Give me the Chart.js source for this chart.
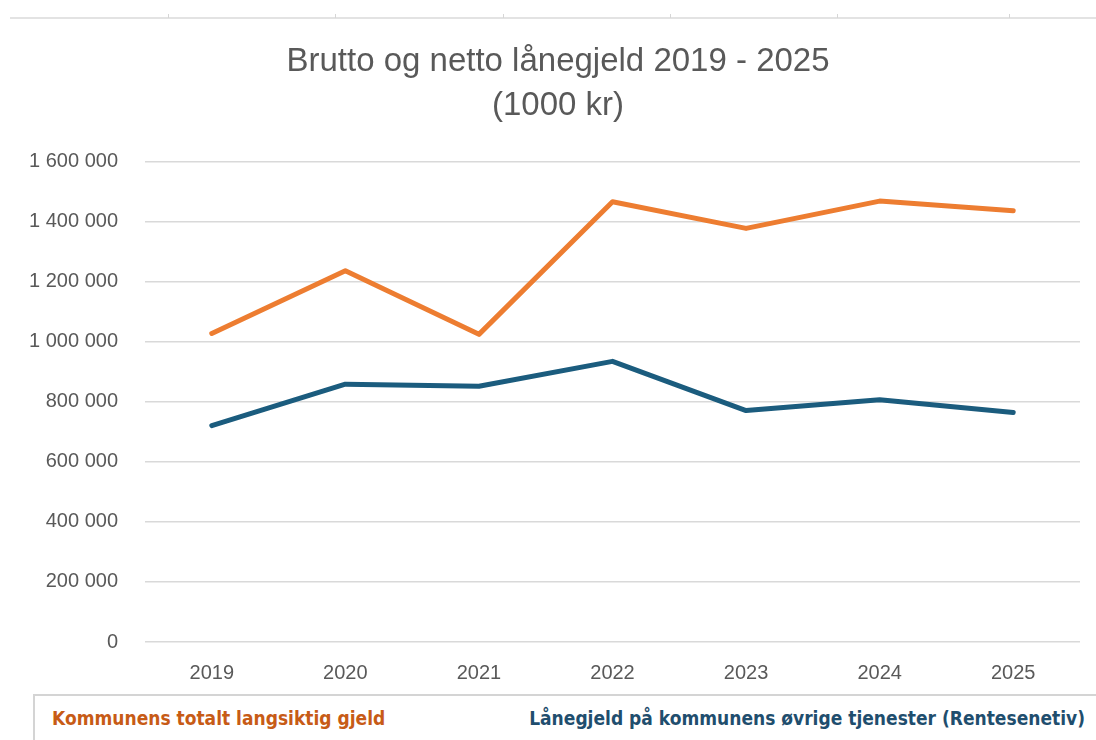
<!DOCTYPE html>
<html>
<head>
<meta charset="utf-8">
<script src="https://cdn.jsdelivr.net/npm/chart.js@4.4.1/dist/chart.umd.min.js"></script>
<style>
  html, body { margin: 0; padding: 0; background: #fff; }
  #wrap { position: relative; width: 1096px; height: 740px; overflow: hidden; }
  #chart { position: absolute; left: 0; top: 0; }
  .cellLine { position: absolute; left: 10px; top: 17px; width: 1090px; height: 2px; background: #e3e3e3; }
  .cellTick { position: absolute; top: 14px; width: 1px; height: 4px; background: #d6d6d6; }
  .legendFrame { position: absolute; left: 33px; top: 694px; width: 1100px; height: 60px;
                 border-top: 2px solid #d4d4d4; border-left: 2px solid #d4d4d4; }
  .legendItem { position: absolute; top: 706px; font-family: 'DejaVu Sans Condensed', 'DejaVu Sans', sans-serif;
                font-stretch: condensed; font-weight: bold; font-size: 19px; line-height: 24px; white-space: nowrap; }
</style>
</head>
<body>
<div id="wrap">
  <div class="cellLine"></div>
  <div class="cellTick" style="left:168px"></div>
  <div class="cellTick" style="left:335px"></div>
  <div class="cellTick" style="left:503px"></div>
  <div class="cellTick" style="left:670px"></div>
  <div class="cellTick" style="left:837px"></div>
  <div class="cellTick" style="left:1009px"></div>
  <div class="legendFrame"></div>
  <div id="legend0" class="legendItem" style="left:52px"></div>
  <div id="legend1" class="legendItem" style="right:11px"></div>
  <canvas id="chart" width="1096" height="740"></canvas>
</div>
<script>
// data
const years = ['2019', '2020', '2021', '2022', '2023', '2024', '2025'];
const totalGjeld = [1028000, 1237000, 1025000, 1467000, 1378000, 1469000, 1437000];
const renteseneGjeld = [721000, 859000, 852000, 935000, 771000, 807000, 765000];
const seriesNames = ['Kommunens totalt langsiktig gjeld', 'Lånegjeld på kommunens øvrige tjenester (Rentesenetiv)'];
const titleLines = ['Brutto og netto lånegjeld 2019 - 2025', '(1000 kr)'];

const lineColors = ['#ED7D31', '#1B5C7E'];
const legendColors = ['#C75B16', '#1F4E6E'];

function fmt(v) {
    return String(v).replace(/\B(?=(\d{3})+(?!\d))/g, ' ');
}

// the left padding only serves to centre the title; let the y labels draw into it
const unclipY = {
    id: 'unclipY',
    afterLayout: function (chart) { chart.scales.y.left = 0; }
};

document.addEventListener('DOMContentLoaded', function () {
    const ctx = document.getElementById('chart').getContext('2d');
    const chart = new Chart(ctx, {
        type: 'line',
        data: {
            labels: years,
            datasets: [
                { label: seriesNames[0], data: totalGjeld, borderColor: lineColors[0], backgroundColor: lineColors[0],
                  borderWidth: 5, pointRadius: 0, tension: 0, borderCapStyle: 'round', borderJoinStyle: 'round' },
                { label: seriesNames[1], data: renteseneGjeld, borderColor: lineColors[1], backgroundColor: lineColors[1],
                  borderWidth: 5, pointRadius: 0, tension: 0, borderCapStyle: 'round', borderJoinStyle: 'round' }
            ]
        },
        options: {
            responsive: false,
            animation: false,
            layout: { padding: { left: 36, right: 16, top: 0, bottom: 36 } },
            plugins: {
                title: {
                    display: true,
                    text: titleLines,
                    color: '#595959',
                    font: { family: 'Liberation Sans', size: 33, weight: 'normal', lineHeight: 1.33 },
                    padding: { top: 40, bottom: 34 }
                },
                legend: { display: false },
                tooltip: { enabled: false }
            },
            scales: {
                x: {
                    offset: true,
                    grid: { display: false, drawTicks: false },
                    border: { display: false },
                    ticks: { color: '#595959', font: { family: 'Liberation Sans', size: 20 }, padding: 19 }
                },
                y: {
                    min: 0,
                    max: 1600000,
                    afterFit: function (scale) { scale.width = 109; },
                    grid: { color: '#d9d9d9', lineWidth: 1.5, drawTicks: false },
                    border: { display: false },
                    ticks: { stepSize: 200000, color: '#595959', padding: 27,
                             font: { family: 'Liberation Sans', size: 20 },
                             callback: function (v) { return fmt(v); } }
                }
            }
        },
        plugins: [unclipY]
    });

    // legend below the plot, as in the spreadsheet
    chart.data.datasets.forEach(function (ds, i) {
        const el = document.getElementById('legend' + i);
        el.textContent = ds.label;
        el.style.color = legendColors[i];
    });
});
</script>
</body>
</html>
